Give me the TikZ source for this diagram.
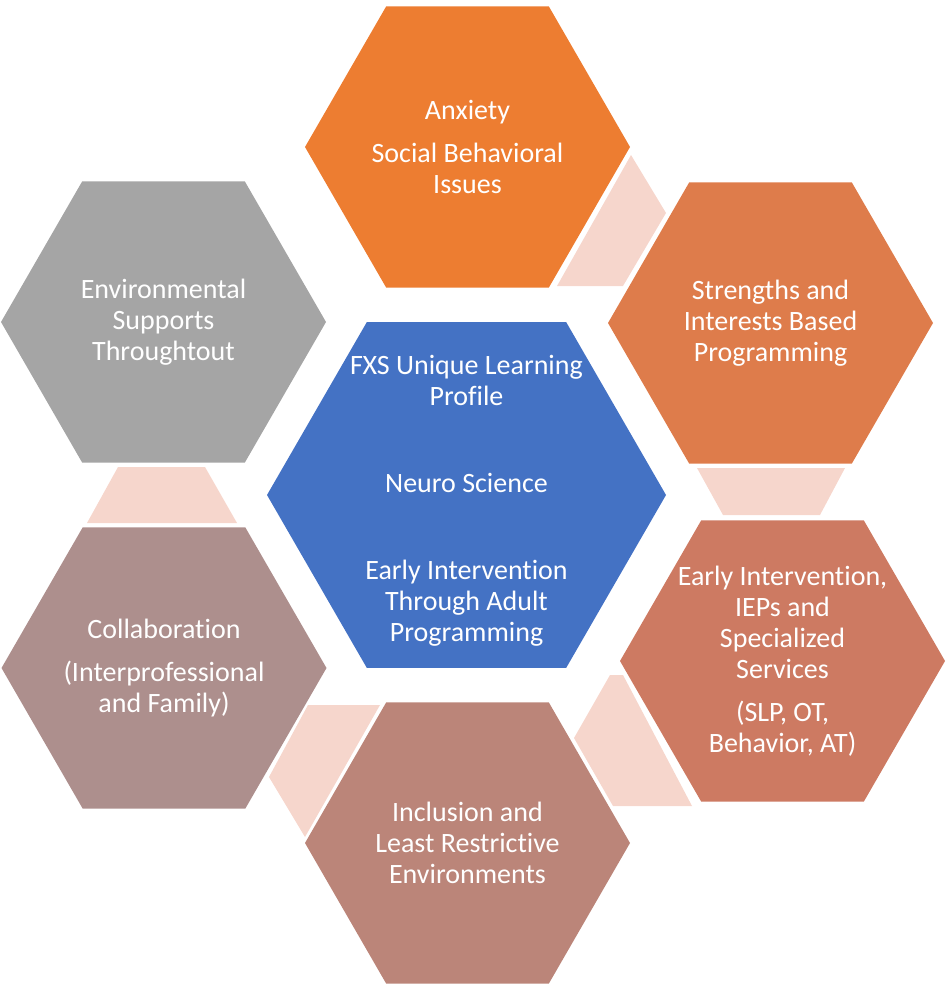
\documentclass[tikz,border=0pt]{standalone}
\usepackage{fontspec}
\setmainfont{Carlito}[Ligatures=NoCommon]
\usetikzlibrary{shapes.geometric}

\definecolor{anxorange}{HTML}{ED7D31}
\definecolor{strorange}{HTML}{DE7C4B}
\definecolor{eisalmon}{HTML}{CD7A62}
\definecolor{incrose}{HTML}{BB8579}
\definecolor{colmauve}{HTML}{AD8F8D}
\definecolor{envgray}{HTML}{A5A5A5}
\definecolor{coreblue}{HTML}{4472C4}
\definecolor{linkpink}{HTML}{F6D6CC}

\begin{document}
\begin{tikzpicture}[
  x=0.75pt,y=-0.75pt,
  hexa/.style={regular polygon,regular polygon sides=6,minimum size=243.75pt,inner sep=0pt},
  hexbig/.style={hexa,minimum size=299.25pt},
  hextext/.style={text=white,align=center,font=\fontsize{21pt}{23.25pt}\selectfont},
  link/.style={fill=linkpink}
]
\useasboundingbox (0,0) rectangle (948,987);

% pink pieces behind
\fill[link] (631,155) -- (666,213) -- (623,286) -- (557,286) -- cycle;
\fill[link] (697,468) -- (845,468) -- (820,515) -- (723,515) -- cycle;
\fill[link] (610,675) -- (623,675) -- (692,806) -- (613,806) -- (574,738) -- cycle;
\fill[link] (308,705) -- (380,705) -- (305,837) -- (269,777) -- cycle;
\fill[link] (118,467) -- (205,467) -- (237,523) -- (87,523) -- cycle;

% hexagons
\node[hexa,fill=anxorange] (anx) at (467.5,147) {};
\node[hexa,fill=strorange] (str) at (770.5,323) {};
\node[hexa,fill=eisalmon] (ei) at (782.5,661) {};
\node[hexa,fill=incrose] (inc) at (467.5,843) {};
\node[hexa,fill=colmauve] (col) at (164,668) {};
\node[hexa,fill=envgray] (env) at (163.5,322) {};
\node[hexbig,fill=coreblue] (core) at (466.5,495) {};

% texts
\node[hextext] (anx text) at (anx) {Anxiety\\[9pt]Social Behavioral\\Issues};
\node[hextext] (str text) at (str) {Strengths and\\Interests Based\\Programming};
\node[hextext] (ei text) at (ei) {Early Intervention,\\IEPs and\\Specialized\\Services\\[9pt](SLP, OT,\\Behavior, AT)};
\node[hextext] (inc text) at (inc) {Inclusion and\\Least Restrictive\\Environments};
\node[hextext] (col text) at (col) {Collaboration\\[9pt](Interprofessional\\and Family)};
\node[hextext] (env text) at (env) {Environmental\\Supports\\Throughtout};
\node[hextext] (core text) at ([yshift=-4.5pt]core.center) {FXS Unique Learning\\Profile\\[42pt]Neuro Science\\[42pt]Early Intervention\\Through Adult\\Programming};
\end{tikzpicture}
\end{document}
